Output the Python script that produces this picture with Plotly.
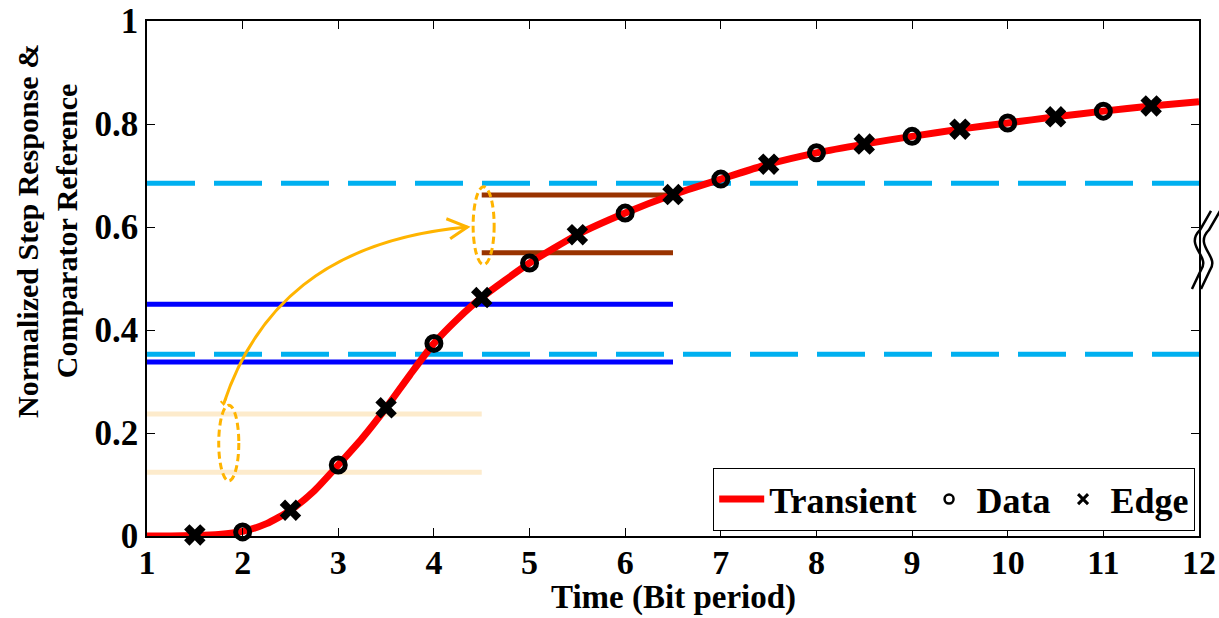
import plotly.graph_objects as go

# ---- data ----
transient_t = [1, 1.25, 1.5, 1.75, 2, 2.25, 2.5, 2.75, 3, 3.25, 3.5, 3.75, 4, 4.25, 4.5, 5, 5.5, 6, 6.5, 7, 7.5, 8,
               8.5, 9, 9.5, 10, 10.5, 11, 11.5, 12]
transient_v = [0.0, 0.0, 0.001, 0.003, 0.009, 0.024, 0.05, 0.088, 0.138, 0.19, 0.249, 0.313, 0.374, 0.422, 0.463,
               0.530, 0.585, 0.627, 0.663, 0.693, 0.722, 0.744, 0.761, 0.776, 0.790, 0.802, 0.814, 0.825, 0.835, 0.843]

data_t = [2, 3, 4, 5, 6, 7, 8, 9, 10, 11]
data_v = [0.008, 0.138, 0.374, 0.530, 0.627, 0.693, 0.744, 0.776, 0.802, 0.825]

edge_t = [1.5, 2.5, 3.5, 4.5, 5.5, 6.5, 7.5, 8.5, 9.5, 10.5, 11.5]
edge_v = [0.002, 0.05, 0.249, 0.463, 0.585, 0.663, 0.722, 0.761, 0.790, 0.814, 0.835]

# comparator reference levels
dashed_levels = [0.685, 0.353]          # light blue dashed, full width
blue_levels = [0.450, 0.338]            # blue, from 1 to 6.5
blue_span = [1, 6.5]
brown_levels = [0.662, 0.550]           # brown, from 4.5 to 6.5
brown_span = [4.5, 6.5]
beige_levels = [0.237, 0.124]           # beige, from 1 to 4.5
beige_span = [1, 4.5]
x_span = [1, 12]

x_ticks = list(range(1, 13))
y_ticks = [0, 0.2, 0.4, 0.6, 0.8, 1]
y_ticktext = ["0", "0.2", "0.4", "0.6", "0.8", "1"]

x_title = "Time (Bit period)"
y_title = "Normalized Step Response &<br>Comparator Reference"

FONT = "Liberation Serif"

fig = go.Figure()

def hline(levels, span, color, dash=None, width=5):
    for lv in levels:
        fig.add_trace(go.Scatter(x=span, y=[lv, lv], mode="lines",
                                 line=dict(color=color, width=width, dash=dash),
                                 showlegend=False, hoverinfo="skip"))

hline(beige_levels, beige_span, "#FDEBCC")
hline(blue_levels, blue_span, "#0000FF")
hline(brown_levels, brown_span, "#993300")
hline(dashed_levels, x_span, "#00B0F0", dash="48px,19px")

fig.add_trace(go.Scatter(x=transient_t, y=transient_v, mode="lines", name="Transient",
                         line=dict(color="#FF0000", width=7, shape="spline", smoothing=0.6)))
fig.add_trace(go.Scatter(x=data_t, y=data_v, mode="markers", name="Data", cliponaxis=False,
                         showlegend=False,
                         marker=dict(symbol="circle-open", size=14, color="black",
                                     line=dict(width=5, color="black"))))
fig.add_trace(go.Scatter(x=edge_t, y=edge_v, mode="markers", name="Edge", cliponaxis=False,
                         showlegend=False,
                         marker=dict(symbol="x", size=19, color="black", line=dict(width=0))))
# legend-only entries (smaller symbols, as in the original legend)
fig.add_trace(go.Scatter(x=[None], y=[None], mode="markers", name="Data",
                         marker=dict(symbol="circle-open", size=9, color="black",
                                     line=dict(width=2.5, color="black"))))
fig.add_trace(go.Scatter(x=[None], y=[None], mode="markers", name="Edge",
                         marker=dict(symbol="x-thin-open", size=10, color="black",
                                     line=dict(width=3, color="black"))))

ORANGE = "#FFB400"
# ellipses
fig.add_shape(type="circle", xref="x", yref="y", x0=1.75, x1=1.96, y0=0.107, y1=0.254,
              line=dict(color=ORANGE, width=3, dash="7px,4px"))
fig.add_shape(type="circle", xref="x", yref="y", x0=4.41, x1=4.63, y0=0.527, y1=0.678,
              line=dict(color=ORANGE, width=3, dash="7px,4px"))
# curved arrow
fig.add_shape(type="path", xref="x", yref="y",
              path="M 1.80,0.256 C 2.13,0.44 2.85,0.575 4.35,0.600",
              line=dict(color=ORANGE, width=3))
fig.add_shape(type="path", xref="x", yref="y",
              path="M 4.13,0.616 L 4.35,0.600 L 4.17,0.577",
              line=dict(color=ORANGE, width=3))
fig.add_shape(type="path", xref="x", yref="y",
              path="M 1.77,0.262 L 1.80,0.256 L 1.83,0.268",
              line=dict(color=ORANGE, width=2))

# axis break symbol on the right border (paper coords)
def px2paper(px, py):
    return (px - 147) / 1052.0, (536 - py) / 515.0

def spath(pts):
    p = [px2paper(*q) for q in pts]
    s = "M %.4f,%.4f " % p[0]
    s += "L %.4f,%.4f " % p[1]
    s += "C %.4f,%.4f %.4f,%.4f %.4f,%.4f " % (p[2] + p[3] + p[4])
    s += "L %.4f,%.4f" % p[5]
    return s

for off in (0, 9):
    pts = [(1192 + off, 289), (1201 + off, 270), (1211 + off, 256), (1184 + off, 246),
           (1200 + off, 230), (1211 + off, 211)]
    fig.add_shape(type="path", xref="paper", yref="paper", path=spath(pts),
                  line=dict(color="black", width=2.5))

# axis titles as annotations (placed as in the original)
fig.add_annotation(text=x_title, xref="paper", yref="paper", x=0.5, y=(536 - 617) / 515.0,
                   xanchor="center", yanchor="bottom", showarrow=False, borderpad=0,
                   font=dict(family=FONT, size=33, color="black", weight="bold"))
fig.add_annotation(text=y_title, xref="paper", yref="paper", x=(47 - 147) / 1052.0,
                   y=(536 - 231) / 515.0, xanchor="center", yanchor="middle",
                   textangle=-90, showarrow=False, align="center",
                   font=dict(family=FONT, size=30, color="black", weight="bold"))

fig.update_layout(
    width=1219, height=618,
    margin=dict(l=147, r=20, t=21, b=82),
    paper_bgcolor="white", plot_bgcolor="white",
    font=dict(family=FONT, color="black"),
    showlegend=True,
    legend=dict(orientation="h", x=0.9962, xanchor="right", y=0.0097, yanchor="bottom",
                bgcolor="white", bordercolor="black", borderwidth=1.2,
                font=dict(family=FONT, size=36, color="black", weight="bold"),
                itemwidth=45, tracegroupgap=0),
    xaxis=dict(range=[1, 12], tickvals=x_ticks, ticktext=[str(v) for v in x_ticks],
               automargin=False, ticklabelstandoff=-5,
               ticks="inside", ticklen=8, tickwidth=1, tickcolor="black",
               showline=True, linecolor="black", linewidth=1.5, mirror="ticks",
               showgrid=False, zeroline=False,
               tickfont=dict(family=FONT, size=34, color="black", weight="bold")),
    yaxis=dict(range=[0, 1], tickvals=y_ticks, ticktext=y_ticktext,
               automargin=False,
               ticks="inside", ticklen=8, tickwidth=1, tickcolor="black",
               showline=True, linecolor="black", linewidth=1.5, mirror="ticks",
               showgrid=False, zeroline=False,
               tickfont=dict(family=FONT, size=35, color="black", weight="bold")),
)

fig.write_html("out.html")
